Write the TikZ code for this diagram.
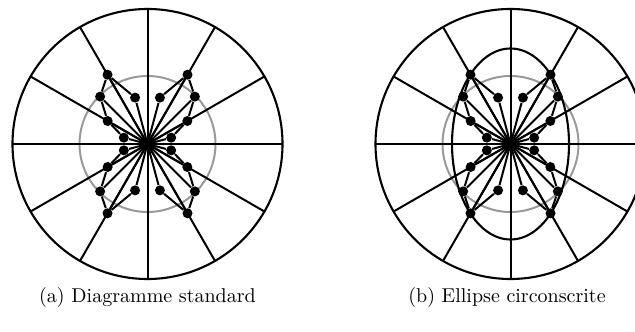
\documentclass[tikz,border=0pt]{standalone}
\begin{document}
\begin{tikzpicture}[x=0.5pt,y=0.5pt,
  outer/.style={line width=1.05pt},
  ray/.style={line width=1pt},
  refcircle/.style={line width=1pt, draw=black!40},
  dot/.style={circle, fill=black, inner sep=0pt, minimum size=5pt},
  captext/.style={font=\fontsize{10}{12}\selectfont, inner sep=0pt}]
\useasboundingbox (0,0) rectangle (635,331);
\foreach \p/\cx in {a/147.5, b/510.5} {
  \coordinate (\p O) at (\cx,187);
  \draw[outer] (\p O) circle[radius=135];
  \draw[refcircle] (\p O) circle[radius=68];
  \foreach \a in {0,30,...,330} {
    \coordinate (\p R\a) at ([shift={(\a:135)}]\p O);
    \draw[ray] (\p O) -- (\p R\a);
  }
  \foreach \q/\s/\o in {1/1/0, 2/-1/180, 3/1/180, 4/-1/360} {
    \foreach \t/\r in {15/24.5, 30/46, 45/67, 60/80, 75/48} {
      \node[dot] (\p\q-\t) at ([shift={({\o+\s*\t}:\r)}]\p O) {};
      \draw[ray] (\p O) -- (\p\q-\t);
    }
    \draw[ray] (\p\q-75) -- (\p\q-60) -- (\p\q-45) -- (\p\q-30) -- (\p\q-15);
  }
}
\draw[outer] (bO) ellipse[x radius=58.5, y radius=95.5];
\node[captext] (capa) at (147.5,33) {(a) Diagramme standard};
\node[captext] (capb) at (507,33) {(b) Ellipse circonscrite};
\end{tikzpicture}
\end{document}
